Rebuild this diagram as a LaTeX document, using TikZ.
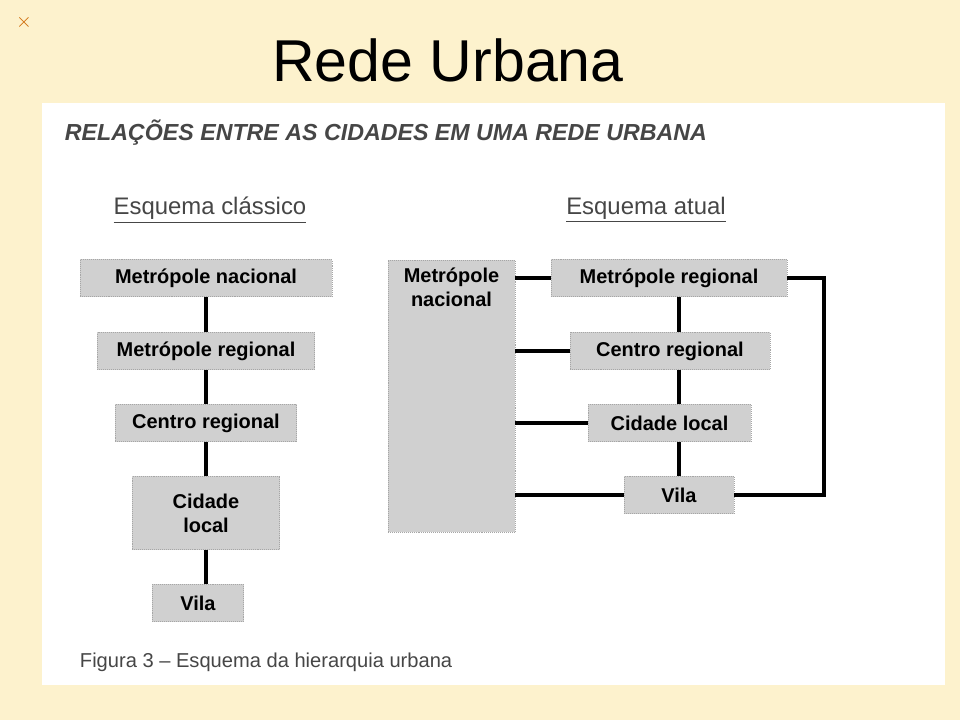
\documentclass[tikz,border=0pt]{standalone}
\usepackage{fontspec}
\setmainfont{Liberation Sans}
\usepackage{tikz}
\usetikzlibrary{positioning}
\definecolor{fundo}{RGB}{253,242,205}
\definecolor{caixa}{RGB}{208,208,208}
\definecolor{cabec}{RGB}{70,70,70}
\tikzset{
  cx/.style={draw=gray!70, densely dotted, fill=caixa, font=\bfseries\fontsize{14.2}{17}\selectfont, inner sep=0pt, align=center},
  lig/.style={line width=2.2pt}
}
\begin{document}
\begin{tikzpicture}[x=0.025cm,y=-0.025cm]
		\useasboundingbox (0,0) rectangle (960,720);
		\fill[fundo] (0,0) rectangle (960,720);
		\fill[white] (42,103) rectangle (945,685);
		\node[text=orange!80!black, font=\bfseries\fontsize{14}{14}\selectfont] (marca) at (24,22) {$\times$};
		\node[font=\fontsize{42}{46}\selectfont] (titulo) at (448,60) {Rede Urbana};
		\node[anchor=west, text=cabec, font=\bfseries\itshape\fontsize{16.5}{19}\selectfont] (cab) at (60,133) {RELAÇÕES ENTRE AS CIDADES EM UMA REDE URBANA};
		\node[text=cabec, font=\fontsize{17}{20}\selectfont] (ecl) at (210,210) {\underline{Esquema clássico}};
		\node[text=cabec, font=\fontsize{17}{20}\selectfont] (eat) at (646,210) {\underline{Esquema atual}};
		% esquema classico
		\node[cx, minimum width=6.3cm, minimum height=0.925cm] (mn) at (206,278) {Metrópole nacional};
		\node[cx, minimum width=5.425cm, minimum height=0.925cm] (mr) at (206,351) {Metrópole regional};
		\node[cx, minimum width=4.525cm, minimum height=0.925cm] (cr) at (206,423) {Centro regional};
		\node[cx, minimum width=3.675cm, minimum height=1.825cm] (cl) at (206,513) {Cidade\\local};
		\node[cx, minimum width=2.275cm, minimum height=0.925cm] (vi) at (198,603) {Vila};
		\draw[lig] (mn) -- (mr) (mr) -- (cr) (cr) -- (cl);
		\draw[lig] (cl.south) -- (cl.south |- vi.north);
		% esquema atual
		\node[cx, minimum width=3.175cm, minimum height=6.8cm] (mn2) at (451.5,396) {};
		\node[cx, fill=none, draw=none, anchor=north] (mn2t) at (451.5,268) {Metrópole\\nacional};
		\node[cx, minimum width=5.9cm, minimum height=0.925cm] (mr2) at (669,278) {Metrópole regional};
		\node[cx, minimum width=5cm, minimum height=0.925cm] (cr2) at (670,351) {Centro regional};
		\node[cx, minimum width=4.075cm, minimum height=0.925cm] (cl2) at (669.5,423) {Cidade local};
		\node[cx, minimum width=2.75cm, minimum height=0.925cm] (vi2) at (679,495) {Vila};
		\draw[lig] (mr2.south -| vi2) -- (cr2.north -| vi2);
		\draw[lig] (cr2.south -| vi2) -- (cl2.north -| vi2);
		\draw[lig] (cl2.south -| vi2) -- (vi2.north);
		\draw[lig] (mn2.east |- mr2) -- (mr2.west);
		\draw[lig] (mn2.east |- cr2) -- (cr2.west);
		\draw[lig] (mn2.east |- cl2) -- (cl2.west);
		\draw[lig] (mn2.east |- vi2) -- (vi2.west);
		\coordinate (volta) at (824,278);
		\draw[lig] (mr2.east) -- (volta) -- (volta |- vi2) -- (vi2.east);
		\node[anchor=west, text=cabec, font=\fontsize{14.3}{17}\selectfont] (leg) at (75,662) {Figura 3 – Esquema da hierarquia urbana};
\end{tikzpicture}
\end{document}
